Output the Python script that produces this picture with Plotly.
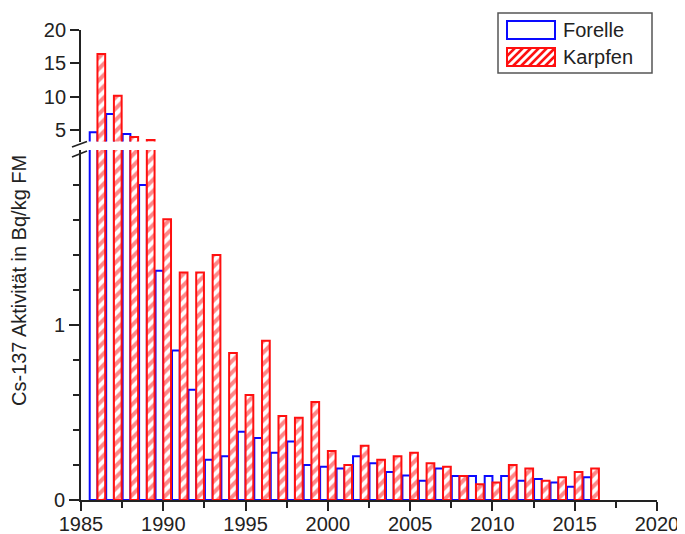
import plotly.graph_objects as go

# ---- data ----
years = list(range(1986, 2017))
forelle = [4.65, 7.4, 4.4, 1.80, 1.31, 0.855, 0.63, 0.23, 0.25, 0.39,
           0.355, 0.27, 0.335, 0.20, 0.19, 0.18, 0.25, 0.21, 0.16, 0.14,
           0.11, 0.18, 0.137, 0.137, 0.137, 0.137, 0.11, 0.12, 0.10, 0.076,
           0.13]
karpfen = [16.4, 10.15, 3.95, 3.5, 1.605, 1.30, 1.30, 1.40, 0.84, 0.60,
           0.91, 0.48, 0.47, 0.56, 0.28, 0.20, 0.31, 0.23, 0.25, 0.27,
           0.21, 0.19, 0.137, 0.09, 0.10, 0.20, 0.18, 0.11, 0.13, 0.16,
           0.18]
series_names = ["Forelle", "Karpfen"]
x_ticks = [1985, 1990, 1995, 2000, 2005, 2010, 2015, 2020]
y_low_ticks = [0, 1]
y_low_minor = [0.2, 0.4, 0.6, 0.8, 1.2, 1.4, 1.6, 1.8]
y_up_ticks = [5, 10, 15, 20]
y_title = "Cs-137 Aktivität in Bq/kg FM"

BLUE = "#0a0aff"
RED = "#ff1010"
AX = "#222222"
FONT = "Arial, Liberation Sans, sans-serif"
BW = 0.47  # bar width in years

# page has an 8px body margin; size the figure so it fits the window
OFF = 8
W, H = 685 - OFF, 534 - OFF
L, R, T, B = 73, 28, 22, 34
PW, PH = W - L - R, H - T - B


def px(x):  # page pixel -> paper
    return (x - OFF - L) / PW


def py(y):  # page pixel -> paper
    return (H - B - (y - OFF)) / PH


low_dom = [0, py(150)]
up_dom = [py(141.5), 1]

fig = go.Figure()

for xa, ya in (("x", "y"), ("x2", "y2")):
    fig.add_trace(go.Bar(
        x=years, y=forelle, name=series_names[0], xaxis=xa, yaxis=ya,
        width=BW, offset=-BW,
        marker=dict(color="white", line=dict(color=BLUE, width=2)),
        showlegend=False))
    fig.add_trace(go.Bar(
        x=years, y=karpfen, name=series_names[1], xaxis=xa, yaxis=ya,
        width=BW, offset=0,
        marker=dict(color="white", line=dict(color=RED, width=2),
                    pattern=dict(shape="/", fgcolor=RED, bgcolor="white",
                                 size=8, solidity=0.5)),
        showlegend=False))

axis_common = dict(showgrid=False, zeroline=False, showline=True,
                   linecolor=AX, linewidth=1.8, ticks="outside",
                   tickcolor=AX, tickwidth=1.5, automargin=False,
                   tickfont=dict(family=FONT, size=20, color="#222"))

fig.update_layout(
    width=W, height=H,
    margin=dict(l=L, r=R, t=T, b=B, autoexpand=False),
    plot_bgcolor="white", paper_bgcolor="white",
    barmode="overlay",
    xaxis=dict(range=[1985, 2020], tickvals=x_ticks, ticklen=9,
               ticklabelstandoff=-4,
               anchor="y", domain=[0, 1],
               minor=dict(tickmode="linear", tick0=1985, dtick=2.5,
                          ticklen=6, ticks="outside", tickcolor=AX),
               **axis_common),
    xaxis2=dict(matches="x", anchor="y2", visible=False, domain=[0, 1]),
    yaxis=dict(range=[0, 2.0], domain=low_dom, anchor="x",
               tickvals=y_low_ticks, ticklen=10,
               minor=dict(tickmode="array", tickvals=y_low_minor,
                          ticklen=6, ticks="outside", tickcolor=AX),
               **axis_common),
    yaxis2=dict(range=[3.27, 20], domain=up_dom, anchor="x2",
                tickvals=y_up_ticks, ticklen=9, **axis_common),
)

shapes = []
# axis break marks
for y_a, y_b in ((147, 141.5), (157, 151)):
    shapes.append(dict(type="line", xref="paper", yref="paper",
                       x0=px(72), y0=py(y_a), x1=px(87), y1=py(y_b),
                       line=dict(color=AX, width=1.8)))

# legend box
shapes.append(dict(type="rect", xref="paper", yref="paper",
                   x0=px(498), y0=py(73), x1=px(652), y1=py(13),
                   line=dict(color="#555", width=1.5), fillcolor="white",
                   layer="above"))
shapes.append(dict(type="rect", xref="paper", yref="paper",
                   x0=px(507), y0=py(39), x1=px(555), y1=py(21),
                   line=dict(color=BLUE, width=2), fillcolor="white",
                   layer="above"))
sx0, sx1, sy0, sy1 = 507, 555, 48, 66
h = sy1 - sy0
s = sx0 - h
while s < sx1:
    xa, ya = s, sy1
    xb, yb = s + h, sy0
    if xa < sx0:
        ya = sy1 - (sx0 - xa)
        xa = sx0
    if xb > sx1:
        yb = sy0 + (xb - sx1)
        xb = sx1
    shapes.append(dict(type="line", xref="paper", yref="paper",
                       x0=px(xa), y0=py(ya), x1=px(xb), y1=py(yb),
                       line=dict(color=RED, width=2.5), layer="above"))
    s += 8
shapes.append(dict(type="rect", xref="paper", yref="paper",
                   x0=px(507), y0=py(66), x1=px(555), y1=py(48),
                   line=dict(color=RED, width=2), layer="above"))

fig.update_layout(shapes=shapes)

fig.add_annotation(text=series_names[0], xref="paper", yref="paper",
                   x=px(561), y=py(30), xanchor="left", yanchor="middle",
                   showarrow=False, font=dict(family=FONT, size=20, color="#222"))
fig.add_annotation(text=series_names[1], xref="paper", yref="paper",
                   x=px(561), y=py(57), xanchor="left", yanchor="middle",
                   showarrow=False, font=dict(family=FONT, size=20, color="#222"))
fig.add_annotation(text=y_title, xref="paper", yref="paper",
                   x=px(19), y=py(281), xanchor="center", yanchor="middle",
                   textangle=-90, showarrow=False,
                   font=dict(family=FONT, size=20, color="#222"))

fig.write_html("out.html")
